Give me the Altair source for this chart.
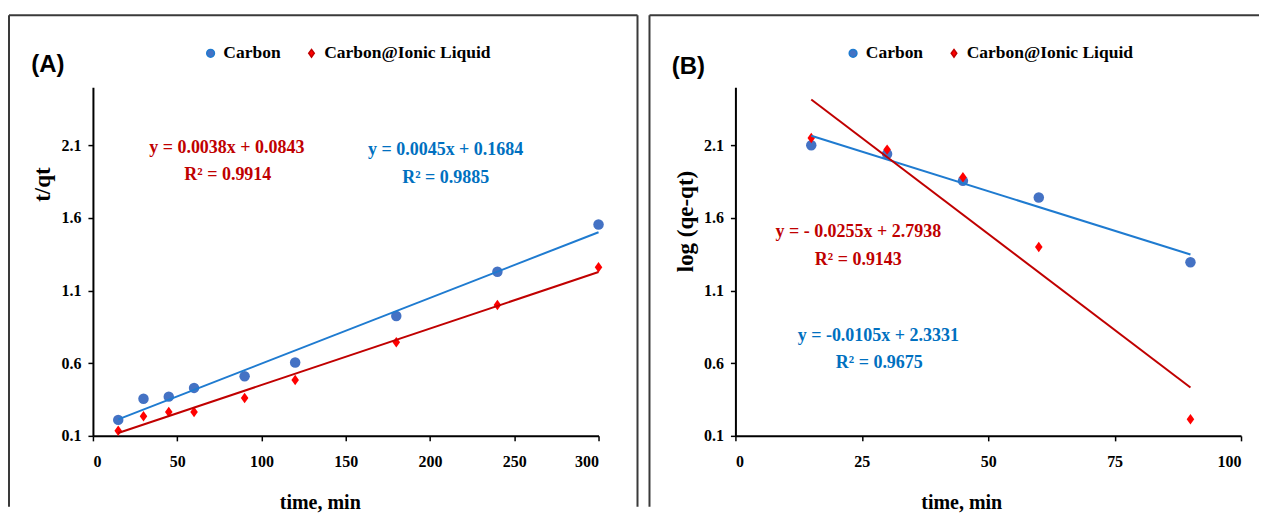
import altair as alt
import pandas as pd

# ---------------- data ----------------
series_names = ["Carbon", "Carbon@Ionic Liquid"]

time_a = [15, 30, 45, 60, 90, 120, 180, 240, 300]
carbon_a = [0.21, 0.355, 0.37, 0.43, 0.51, 0.605, 0.925, 1.23, 1.555]
cil_a = [0.135, 0.235, 0.265, 0.265, 0.36, 0.485, 0.745, 1.0, 1.26]

time_b = [15, 30, 45, 60, 90]
carbon_b = [2.10, 2.04, 1.855, 1.74, 1.295]
cil_b = [2.15, 2.07, 1.88, 1.40, 0.215]

y_ticks = [0.1, 0.6, 1.1, 1.6, 2.1]
x_ticks_a = [0, 50, 100, 150, 200, 250, 300]
x_ticks_b = [0, 25, 50, 75, 100]

eq_a = ["y = 0.0038x + 0.0843", "R² = 0.9914", "y = 0.0045x + 0.1684", "R² = 0.9885"]
eq_b = ["y = - 0.0255x + 2.7938", "R² = 0.9143", "y = -0.0105x + 2.3331", "R² = 0.9675"]
panel_labels = ["(A)", "(B)"]
y_titles = ["t/qt", "log (qe-qt)"]
x_title = "time, min"

# ---------------- styles ----------------
SERIF = "Liberation Serif"
point_colors = ["#4472C4", "#FF0000"]
line_colors = ["#1F7BD0", "#C00000"]
text_red = "#C00000"
text_blue = "#0070C0"
diamond = "M0,-1L0.72,0L0,1L-0.72,0Z"

W, H = 506, 349


def text_layer(txt, px, py, color, size=18, font=SERIF):
    return alt.Chart(pd.DataFrame({"t": [txt]})).mark_text(
        font=font, fontWeight="bold", fontSize=size, color=color,
        align="center", baseline="middle"
    ).encode(x=alt.value(px), y=alt.value(py), text="t:N")


def border_layers(left, right, top, bottom, draw_right=True):
    d = pd.DataFrame({"k": [0]})
    sty = dict(color="#3a3a3a", strokeWidth=2)
    layers = [
        alt.Chart(d).mark_rule(**sty).encode(
            x=alt.value(left), x2=alt.value(right), y=alt.value(top)),
        alt.Chart(d).mark_rule(**sty).encode(
            x=alt.value(left), y=alt.value(top), y2=alt.value(bottom)),
    ]
    if draw_right:
        layers.append(alt.Chart(d).mark_rule(**sty).encode(
            x=alt.value(right), y=alt.value(top), y2=alt.value(bottom)))
    return layers


def panel(times, s1, s2, xdom, xticks, ytitle, ytitle_y, xtitle_x,
          eqs, eq_pos, label, label_pos, border):
    n = len(times)
    df = pd.DataFrame({
        "time": list(times) * 2,
        "val": list(s1) + list(s2),
        "series": [series_names[0]] * n + [series_names[1]] * n,
    })
    xenc = alt.X("time:Q",
                 scale=alt.Scale(domain=xdom, nice=False, zero=False),
                 axis=alt.Axis(values=xticks, grid=False, title=x_title,
                               domainColor="black", domainWidth=2,
                               tickColor="black", tickWidth=1.5, tickSize=5,
                               labelFont=SERIF, labelFontWeight="bold",
                               labelFontSize=16, labelColor="black",
                               labelPadding=13,
                               titleFont=SERIF, titleFontWeight="bold",
                               titleFontSize=20, titleColor="black",
                               titleX=xtitle_x, titleY=67,
                               titleAlign="center", titleBaseline="middle"))
    yenc = alt.Y("val:Q",
                 scale=alt.Scale(domain=[0.1, 2.5], nice=False, zero=False),
                 axis=alt.Axis(values=y_ticks, format=".1f", grid=False,
                               title=ytitle,
                               domainColor="black", domainWidth=2,
                               tickColor="black", tickWidth=1.5, tickSize=5,
                               labelFont=SERIF, labelFontWeight="bold",
                               labelFontSize=16, labelColor="black",
                               labelPadding=7,
                               titleFont=SERIF, titleFontWeight="bold",
                               titleFontSize=23, titleColor="black",
                               titleAngle=270, titleX=-50, titleY=ytitle_y,
                               titleAlign="center", titleBaseline="middle"))
    legend = alt.Legend(orient="none", legendX=109, legendY=-43,
                        direction="horizontal", title=None,
                        labelFont=SERIF, labelFontWeight="bold",
                        labelFontSize=17.5, labelColor="black", labelLimit=0,
                        labelOffset=4, columnPadding=22, symbolSize=60,
                        symbolOpacity=1, padding=0)
    base = alt.Chart(df)
    pts = base.mark_point(filled=True, size=110, opacity=1).encode(
        x=xenc, y=yenc,
        color=alt.Color("series:N",
                        scale=alt.Scale(domain=series_names, range=point_colors),
                        legend=legend),
        shape=alt.Shape("series:N",
                        scale=alt.Scale(domain=series_names,
                                        range=["circle", diamond]),
                        legend=legend),
    )
    lines = base.transform_regression(
        "time", "val", groupby=["series"]
    ).mark_line(strokeWidth=2).encode(
        x=alt.X("time:Q"), y=alt.Y("val:Q"),
        stroke=alt.Stroke("series:N",
                          scale=alt.Scale(domain=series_names, range=line_colors),
                          legend=None),
    )
    texts = [
        text_layer(eqs[0], eq_pos[0][0], eq_pos[0][1], text_red),
        text_layer(eqs[1], eq_pos[1][0], eq_pos[1][1], text_red),
        text_layer(eqs[2], eq_pos[2][0], eq_pos[2][1], text_blue),
        text_layer(eqs[3], eq_pos[3][0], eq_pos[3][1], text_blue),
        text_layer(label, label_pos[0], label_pos[1], "black", size=24,
                   font="Liberation Sans"),
    ]
    return alt.layer(pts, lines, *texts, *border).properties(width=W, height=H)


pA = panel(time_a, carbon_a, cil_a, [0, 300], x_ticks_a, y_titles[0], 97, 227,
           eq_a, [(134, 61), (135, 88), (353, 63), (353, 91)],
           panel_labels[0], (-45, -22),
           border_layers(-84, 545, -72, 420, True))
pB = panel(time_b, carbon_b, cil_b, [0, 100], x_ticks_b, y_titles[1], 134, 226,
           eq_b, [(123, 145), (123, 173), (143, 249), (144, 276)],
           panel_labels[1], (-47, -20),
           border_layers(-86, 524, -72, 420, False))

chart = alt.hconcat(pA, pB, spacing=137, bounds="flush").resolve_scale(
    color="independent", shape="independent", stroke="independent"
).properties(
    padding={"left": 0, "top": 6, "right": 0, "bottom": 0}
).configure_view(stroke=None)

chart.save("out.html", embed_options={"renderer": "svg", "actions": False})
